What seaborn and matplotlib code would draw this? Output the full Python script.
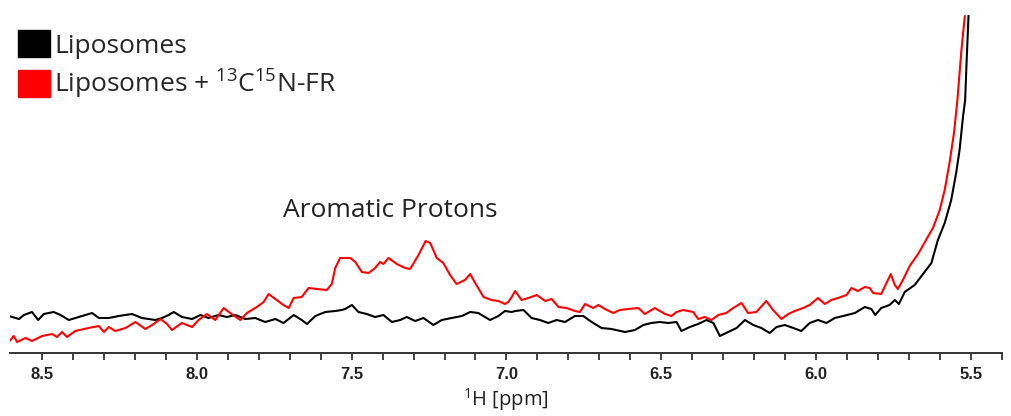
import matplotlib
matplotlib.use("Agg")
import matplotlib.pyplot as plt
from matplotlib.patches import Patch
import seaborn as sns

# chemical shift (ppm) and intensity (arb. units)
ppm_lipo = [8.607, 8.574, 8.558, 8.532, 8.512, 8.494, 8.462, 8.440, 8.413, 8.381,
            8.338, 8.316, 8.284, 8.252, 8.209, 8.177, 8.134, 8.112, 8.091, 8.074,
            8.048, 8.015, 7.988, 7.962, 7.929, 7.903, 7.875, 7.843, 7.811, 7.779,
            7.746, 7.720, 7.687, 7.661, 7.644, 7.617, 7.585, 7.553, 7.532, 7.521,
            7.499, 7.478, 7.451, 7.424, 7.397, 7.370, 7.343, 7.322, 7.295, 7.268,
            7.236, 7.209, 7.177, 7.144, 7.117, 7.091, 7.053, 7.026, 7.005, 6.983,
            6.972, 6.945, 6.919, 6.892, 6.865, 6.838, 6.811, 6.779, 6.752, 6.725,
            6.693, 6.661, 6.617, 6.585, 6.558, 6.532, 6.505, 6.478, 6.451, 6.435,
            6.408, 6.381, 6.354, 6.332, 6.311, 6.284, 6.257, 6.230, 6.203, 6.177,
            6.150, 6.128, 6.101, 6.074, 6.048, 6.021, 5.994, 5.967, 5.940, 5.913,
            5.875, 5.843, 5.822, 5.809, 5.790, 5.763, 5.746, 5.733, 5.714, 5.682,
            5.650, 5.628, 5.607, 5.585, 5.564, 5.548, 5.537, 5.526, 5.519, 5.515,
            5.508]
int_lipo = [37, 34, 38, 41, 33, 39, 41, 38, 33, 36,
            40, 35, 35, 37, 39, 35, 33, 35, 38, 41,
            36, 34, 38, 35, 38, 36, 38, 34, 35, 31,
            34, 30, 38, 33, 29, 37, 41, 42, 43, 44,
            48, 41, 39, 36, 38, 31, 33, 36, 32, 35,
            28, 33, 35, 37, 41, 40, 33, 37, 42, 41,
            42, 43, 35, 33, 30, 33, 31, 37, 37, 31,
            25, 24, 21, 23, 28, 30, 31, 30, 31, 22,
            26, 29, 33, 30, 17, 21, 25, 33, 28, 25,
            20, 26, 28, 25, 22, 30, 33, 30, 35, 37,
            40, 46, 44, 38, 45, 48, 53, 49, 61, 68,
            81, 90, 113, 130, 153, 180, 203, 236, 253, 286,
            338]

ppm_fr = [8.607, 8.591, 8.580, 8.553, 8.532, 8.499, 8.467, 8.451, 8.435, 8.419,
          8.392, 8.349, 8.316, 8.300, 8.284, 8.263, 8.230, 8.198, 8.166, 8.144,
          8.117, 8.096, 8.080, 8.048, 8.015, 7.994, 7.967, 7.940, 7.913, 7.892,
          7.859, 7.838, 7.806, 7.784, 7.768, 7.746, 7.720, 7.703, 7.687, 7.661,
          7.639, 7.612, 7.580, 7.564, 7.553, 7.537, 7.504, 7.488, 7.467, 7.445,
          7.424, 7.408, 7.397, 7.381, 7.354, 7.327, 7.311, 7.284, 7.261, 7.246,
          7.225, 7.204, 7.182, 7.161, 7.134, 7.117, 7.101, 7.074, 7.048, 7.026,
          7.005, 6.994, 6.983, 6.972, 6.951, 6.929, 6.902, 6.875, 6.854, 6.832,
          6.806, 6.779, 6.763, 6.746, 6.720, 6.703, 6.682, 6.655, 6.634, 6.607,
          6.574, 6.553, 6.521, 6.488, 6.467, 6.451, 6.429, 6.397, 6.381, 6.359,
          6.338, 6.316, 6.290, 6.268, 6.241, 6.220, 6.193, 6.161, 6.139, 6.112,
          6.090, 6.069, 6.042, 6.021, 5.994, 5.972, 5.951, 5.929, 5.902, 5.886,
          5.865, 5.843, 5.827, 5.816, 5.790, 5.773, 5.759, 5.746, 5.736, 5.720,
          5.698, 5.671, 5.645, 5.623, 5.601, 5.585, 5.569, 5.555, 5.544, 5.531,
          5.520]
int_fr = [11, 17, 11, 15, 12, 17, 19, 16, 21, 16,
          22, 25, 27, 21, 26, 22, 25, 31, 24, 28,
          34, 29, 23, 30, 26, 33, 39, 33, 45, 40,
          33, 40, 46, 51, 59, 54, 48, 45, 55, 56,
          65, 64, 63, 69, 85, 95, 95, 91, 81, 80,
          85, 91, 89, 95, 89, 85, 84, 98, 112, 110,
          95, 90, 78, 69, 73, 79, 70, 56, 53, 52,
          49, 51, 56, 62, 53, 55, 58, 52, 54, 46,
          45, 42, 41, 49, 45, 48, 44, 40, 43, 44,
          45, 39, 45, 39, 37, 41, 43, 41, 34, 36,
          33, 38, 40, 45, 50, 40, 41, 52, 43, 34,
          39, 42, 45, 48, 55, 49, 53, 55, 58, 65,
          62, 66, 65, 60, 59, 70, 79, 68, 64, 73,
          87, 99, 113, 125, 143, 163, 191, 220, 253, 303,
          337]

labels = ["Liposomes", "Liposomes + $\\mathregular{^{13}C^{15}N}$-FR"]
colors = ["black", "#ff0000"]
tick_vals = [8.5, 8.0, 7.5, 7.0, 6.5, 6.0, 5.5]

sns.set_style("white")
plt.rcParams['font.family'] = ['Open Sans', 'DejaVu Sans']
plt.rcParams['mathtext.fontset'] = 'custom'
plt.rcParams['mathtext.rm'] = 'Open Sans'

fig = plt.figure(figsize=(10.11, 4.16), dpi=100)
ax = fig.add_axes([10 / 1011, 63 / 416, 992 / 1011, 338 / 416])

sns.lineplot(x=ppm_lipo, y=int_lipo, color=colors[0], linewidth=1.5,
             estimator=None, ax=ax)
sns.lineplot(x=ppm_fr, y=int_fr, color=colors[1], linewidth=1.5,
             estimator=None, ax=ax)

ax.set_xlim(8.603, 5.403)
ax.set_ylim(0, 338)
ax.set_yticks([])
ax.set_ylabel("")
for side in ["top", "right", "left"]:
    ax.spines[side].set_visible(False)
ax.spines["bottom"].set_linewidth(1.4)
ax.spines["bottom"].set_color("#333333")

ax.set_xticks(tick_vals)
ax.set_xticklabels([f"{v:.1f}" for v in tick_vals], fontweight="bold",
                   fontsize=12, family="Liberation Sans", color="#222222")
ax.set_xticks([8.4, 8.3, 8.2, 8.1, 7.9, 7.8, 7.7, 7.6, 7.4, 7.3, 7.2, 7.1,
               6.9, 6.8, 6.7, 6.6, 6.4, 6.3, 6.2, 6.1, 5.9, 5.8, 5.7, 5.6, 5.4],
              minor=True)
ax.tick_params(axis="x", which="both", direction="out", length=5, width=1.3,
               color="#333333", bottom=True, pad=5)
ax.set_xlabel("$\\mathregular{^{1}}$H [ppm]", fontsize=14.5, color="#222222",
              labelpad=3)

ax.text(7.374, 136, "Aromatic Protons", fontsize=19, ha="center",
        va="baseline", color="#222222")

handles = [Patch(facecolor=c, edgecolor=c) for c in colors]
ax.legend(handles, labels, loc="upper left", bbox_to_anchor=(18 / 1011, 1 - 30 / 416),
          bbox_transform=fig.transFigure, frameon=False, fontsize=19,
          handlelength=1.21, handleheight=1.21, handletextpad=0.15,
          labelspacing=0.34, borderpad=0, borderaxespad=0)

fig.savefig("out.png", dpi=100)
